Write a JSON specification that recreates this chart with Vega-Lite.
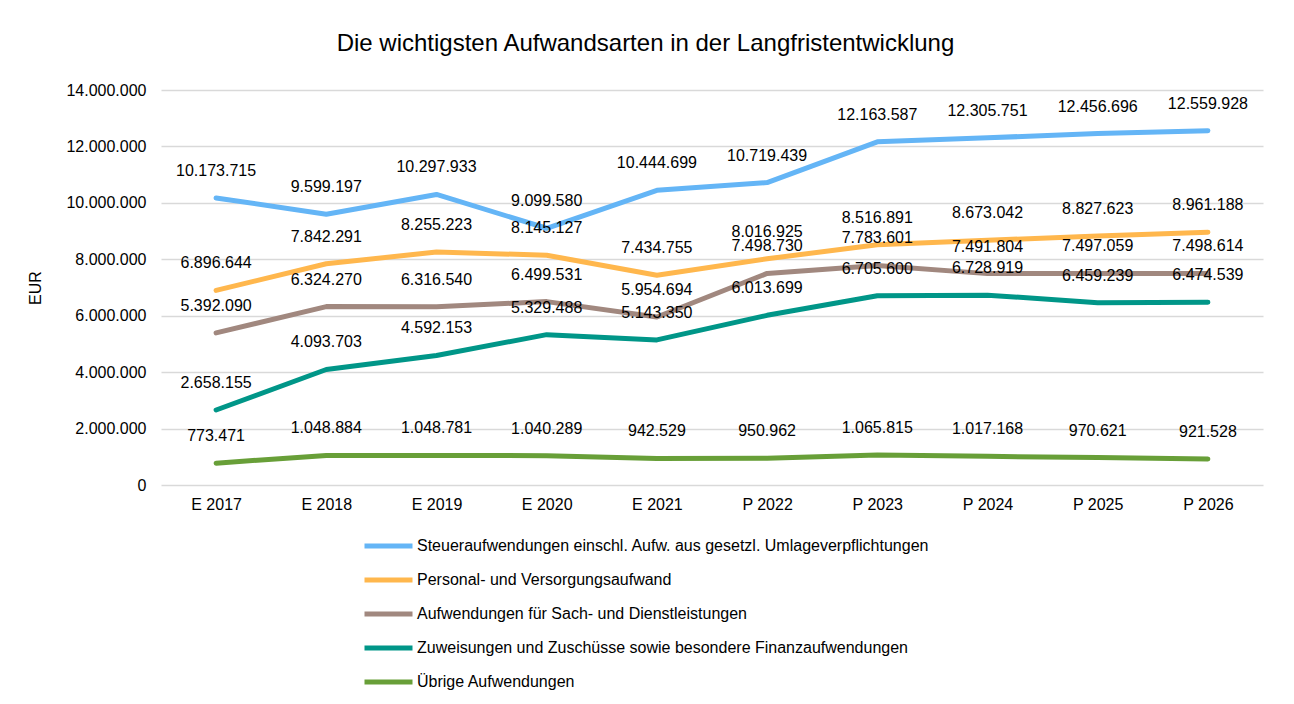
{
  "$schema": "https://vega.github.io/schema/vega-lite/v6.json",
  "width": 1102,
  "height": 395,
  "autosize": {"type": "none"},
  "padding": {"left": 161, "top": 90, "right": 31, "bottom": 219},
  "background": "#ffffff",
  "title": {
    "text": "Die wichtigsten Aufwandsarten in der Langfristentwicklung",
    "anchor": "middle",
    "frame": "bounds",
    "font": "Liberation Sans",
    "fontSize": 24,
    "fontWeight": "normal",
    "color": "#000000",
    "offset": 26
  },
  "config": {
    "locale": {"number": {"decimal": ",", "thousands": ".", "grouping": [3], "currency": ["", " €"]}},
    "view": {"stroke": null},
    "font": "Liberation Sans"
  },
  "data": {
    "values": [
      {"jahr": "E 2017", "art": "Steueraufwendungen einschl. Aufw. aus gesetzl. Umlageverpflichtungen", "wert": 10173715},
      {"jahr": "E 2018", "art": "Steueraufwendungen einschl. Aufw. aus gesetzl. Umlageverpflichtungen", "wert": 9599197},
      {"jahr": "E 2019", "art": "Steueraufwendungen einschl. Aufw. aus gesetzl. Umlageverpflichtungen", "wert": 10297933},
      {"jahr": "E 2020", "art": "Steueraufwendungen einschl. Aufw. aus gesetzl. Umlageverpflichtungen", "wert": 9099580},
      {"jahr": "E 2021", "art": "Steueraufwendungen einschl. Aufw. aus gesetzl. Umlageverpflichtungen", "wert": 10444699},
      {"jahr": "P 2022", "art": "Steueraufwendungen einschl. Aufw. aus gesetzl. Umlageverpflichtungen", "wert": 10719439},
      {"jahr": "P 2023", "art": "Steueraufwendungen einschl. Aufw. aus gesetzl. Umlageverpflichtungen", "wert": 12163587},
      {"jahr": "P 2024", "art": "Steueraufwendungen einschl. Aufw. aus gesetzl. Umlageverpflichtungen", "wert": 12305751},
      {"jahr": "P 2025", "art": "Steueraufwendungen einschl. Aufw. aus gesetzl. Umlageverpflichtungen", "wert": 12456696},
      {"jahr": "P 2026", "art": "Steueraufwendungen einschl. Aufw. aus gesetzl. Umlageverpflichtungen", "wert": 12559928},
      {"jahr": "E 2017", "art": "Personal- und Versorgungsaufwand", "wert": 6896644},
      {"jahr": "E 2018", "art": "Personal- und Versorgungsaufwand", "wert": 7842291},
      {"jahr": "E 2019", "art": "Personal- und Versorgungsaufwand", "wert": 8255223},
      {"jahr": "E 2020", "art": "Personal- und Versorgungsaufwand", "wert": 8145127},
      {"jahr": "E 2021", "art": "Personal- und Versorgungsaufwand", "wert": 7434755},
      {"jahr": "P 2022", "art": "Personal- und Versorgungsaufwand", "wert": 8016925},
      {"jahr": "P 2023", "art": "Personal- und Versorgungsaufwand", "wert": 8516891},
      {"jahr": "P 2024", "art": "Personal- und Versorgungsaufwand", "wert": 8673042},
      {"jahr": "P 2025", "art": "Personal- und Versorgungsaufwand", "wert": 8827623},
      {"jahr": "P 2026", "art": "Personal- und Versorgungsaufwand", "wert": 8961188},
      {"jahr": "E 2017", "art": "Aufwendungen für Sach- und Dienstleistungen", "wert": 5392090},
      {"jahr": "E 2018", "art": "Aufwendungen für Sach- und Dienstleistungen", "wert": 6324270},
      {"jahr": "E 2019", "art": "Aufwendungen für Sach- und Dienstleistungen", "wert": 6316540},
      {"jahr": "E 2020", "art": "Aufwendungen für Sach- und Dienstleistungen", "wert": 6499531},
      {"jahr": "E 2021", "art": "Aufwendungen für Sach- und Dienstleistungen", "wert": 5954694},
      {"jahr": "P 2022", "art": "Aufwendungen für Sach- und Dienstleistungen", "wert": 7498730},
      {"jahr": "P 2023", "art": "Aufwendungen für Sach- und Dienstleistungen", "wert": 7783601},
      {"jahr": "P 2024", "art": "Aufwendungen für Sach- und Dienstleistungen", "wert": 7491804},
      {"jahr": "P 2025", "art": "Aufwendungen für Sach- und Dienstleistungen", "wert": 7497059},
      {"jahr": "P 2026", "art": "Aufwendungen für Sach- und Dienstleistungen", "wert": 7498614},
      {"jahr": "E 2017", "art": "Zuweisungen und Zuschüsse sowie besondere Finanzaufwendungen", "wert": 2658155},
      {"jahr": "E 2018", "art": "Zuweisungen und Zuschüsse sowie besondere Finanzaufwendungen", "wert": 4093703},
      {"jahr": "E 2019", "art": "Zuweisungen und Zuschüsse sowie besondere Finanzaufwendungen", "wert": 4592153},
      {"jahr": "E 2020", "art": "Zuweisungen und Zuschüsse sowie besondere Finanzaufwendungen", "wert": 5329488},
      {"jahr": "E 2021", "art": "Zuweisungen und Zuschüsse sowie besondere Finanzaufwendungen", "wert": 5143350},
      {"jahr": "P 2022", "art": "Zuweisungen und Zuschüsse sowie besondere Finanzaufwendungen", "wert": 6013699},
      {"jahr": "P 2023", "art": "Zuweisungen und Zuschüsse sowie besondere Finanzaufwendungen", "wert": 6705600},
      {"jahr": "P 2024", "art": "Zuweisungen und Zuschüsse sowie besondere Finanzaufwendungen", "wert": 6728919},
      {"jahr": "P 2025", "art": "Zuweisungen und Zuschüsse sowie besondere Finanzaufwendungen", "wert": 6459239},
      {"jahr": "P 2026", "art": "Zuweisungen und Zuschüsse sowie besondere Finanzaufwendungen", "wert": 6474539},
      {"jahr": "E 2017", "art": "Übrige Aufwendungen", "wert": 773471},
      {"jahr": "E 2018", "art": "Übrige Aufwendungen", "wert": 1048884},
      {"jahr": "E 2019", "art": "Übrige Aufwendungen", "wert": 1048781},
      {"jahr": "E 2020", "art": "Übrige Aufwendungen", "wert": 1040289},
      {"jahr": "E 2021", "art": "Übrige Aufwendungen", "wert": 942529},
      {"jahr": "P 2022", "art": "Übrige Aufwendungen", "wert": 950962},
      {"jahr": "P 2023", "art": "Übrige Aufwendungen", "wert": 1065815},
      {"jahr": "P 2024", "art": "Übrige Aufwendungen", "wert": 1017168},
      {"jahr": "P 2025", "art": "Übrige Aufwendungen", "wert": 970621},
      {"jahr": "P 2026", "art": "Übrige Aufwendungen", "wert": 921528}
    ]
  },
  "encoding": {
    "x": {
      "field": "jahr",
      "type": "ordinal",
      "sort": null,
      "scale": {"type": "point", "padding": 0.5},
      "axis": {
        "title": null,
        "labelAngle": 0,
        "labelFont": "Liberation Sans",
        "labelFontSize": 16,
        "labelColor": "#000000",
        "labelPadding": 11,
        "ticks": false,
        "domain": false
      }
    },
    "y": {
      "field": "wert",
      "type": "quantitative",
      "scale": {"domain": [0, 14000000], "nice": false},
      "axis": {
        "title": "EUR",
        "titleFont": "Liberation Sans",
        "titleFontSize": 16,
        "titleFontWeight": "normal",
        "titleColor": "#000000",
        "titlePadding": 22,
        "values": [0, 2000000, 4000000, 6000000, 8000000, 10000000, 12000000, 14000000],
        "format": ",d",
        "labelFont": "Liberation Sans",
        "labelFontSize": 16,
        "labelColor": "#000000",
        "labelPadding": 15,
        "ticks": false,
        "domain": false,
        "grid": true,
        "gridColor": "#d9d9d9",
        "gridWidth": 1.5
      }
    },
    "color": {
      "field": "art",
      "type": "nominal",
      "scale": {
        "domain": [
          "Steueraufwendungen einschl. Aufw. aus gesetzl. Umlageverpflichtungen",
          "Personal- und Versorgungsaufwand",
          "Aufwendungen für Sach- und Dienstleistungen",
          "Zuweisungen und Zuschüsse sowie besondere Finanzaufwendungen",
          "Übrige Aufwendungen"
        ],
        "range": ["#64B5F6", "#FFB74D", "#A1887F", "#009688", "#689F38"]
      },
      "legend": {
        "title": null,
        "orient": "none",
        "legendX": 201,
        "legendY": 448,
        "direction": "vertical",
        "symbolType": "stroke",
        "symbolSize": 2304,
        "symbolStrokeWidth": 5,
        "clipHeight": 16,
        "labelFont": "Liberation Sans",
        "labelFontSize": 16,
        "labelColor": "#000000",
        "labelOffset": 2,
        "rowPadding": 18,
        "labelLimit": 800
      }
    }
  },
  "layer": [
    {
      "mark": {"type": "line", "strokeWidth": 5, "strokeCap": "round", "strokeJoin": "round"}
    },
    {
      "mark": {"type": "text", "baseline": "middle", "dy": -27, "fontSize": 16, "color": "#000000", "font": "Liberation Sans"},
      "encoding": {
        "text": {"field": "wert", "type": "quantitative", "format": ",d"},
        "color": {"value": "#000000"}
      }
    }
  ]
}
